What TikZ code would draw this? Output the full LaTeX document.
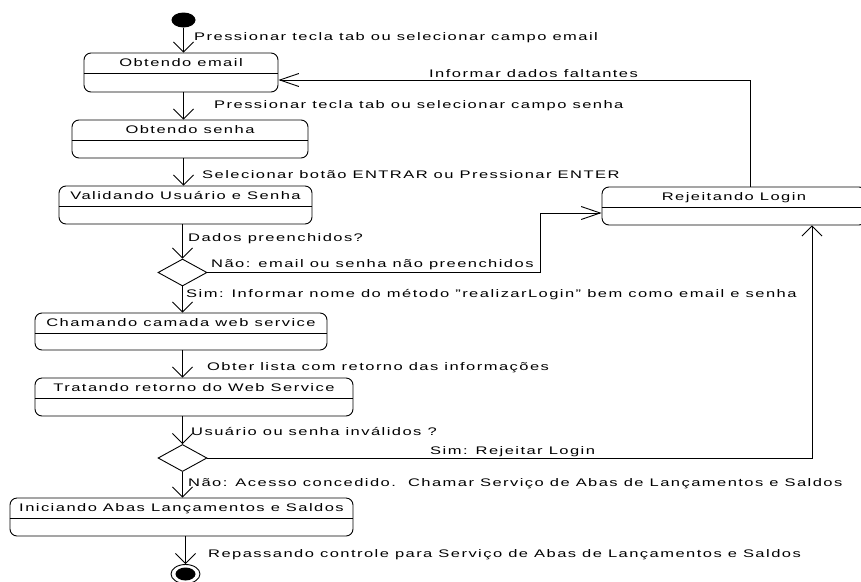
\documentclass[tikz,border=0pt]{standalone}
\usepackage{fontspec}
\setmainfont{Liberation Sans}[FakeStretch=1.5,LetterSpace=13.3]
\usetikzlibrary{arrows.meta,shapes.geometric}

% state box: name, x1, y1, x2, y2, title
\newcommand\umlstate[6]{%
  \node[state, minimum width={#4-#2}, minimum height={#5-#3}] (#1) at ({(#2+#4)/2},{(#3+#5)/2}) {};
  \draw[flow] ([yshift=-21pt]#1.north west) -- ([yshift=-21pt]#1.north east);
  \node[txt, anchor=base] (#1-title) at ({(#2+#4)/2},{#3+13}) {#6};
}

\begin{document}
\begin{tikzpicture}[x=1pt,y=-1pt,
  txt/.style={inner sep=0pt, font=\fontsize{11}{13}\selectfont},
  lbl/.style={txt, anchor=base west},
  flow/.style={line width=0.9pt},
  state/.style={draw, flow, rounded corners=7pt, inner sep=0pt},
  varr/.style={flow, -{Straight Barb[length=10pt,width=20pt]}},
  harr/.style={flow, -{Straight Barb[length=19pt,width=13pt]}},
  decision/.style={draw, flow, diamond, aspect=1.8, minimum width=49pt, minimum height=27pt, inner sep=0pt}]

\useasboundingbox (0,0) rectangle (861,581);
\clip (0,0) rectangle (861,581);
\fill[white] (0,0) rectangle (861,581);

% start and end
\node[fill, ellipse, minimum width=24pt, minimum height=15pt, inner sep=0pt] (init) at (183.5,20) {};
\node[draw, flow, ellipse, minimum width=29pt, minimum height=19pt, inner sep=0pt] (final) at (185.5,574) {};
\fill (final.center) ellipse [x radius=10pt, y radius=6.5pt];

% states
\umlstate{email}{84}{53}{278}{92}{Obtendo email}
\umlstate{senha}{72}{120}{308}{158}{Obtendo senha}
\umlstate{valida}{59}{186}{312}{224}{Validando Usuário e Senha}
\umlstate{chama}{35}{313}{327}{350}{Chamando camada web service}
\umlstate{trata}{35}{378}{353}{416}{Tratando retorno do Web Service}
\umlstate{inicia}{10}{498}{353}{536}{Iniciando Abas Lançamentos e Saldos}
\umlstate{rejeita}{602}{187}{866}{225}{Rejeitando Login}

% decisions
\node[decision] (d1) at (182.5,272.5) {};
\node[decision] (d2) at (182.5,458) {};

% bend points
\coordinate (bendA) at (540,213);
\coordinate (bendB) at (750,80);
\coordinate (bendC) at (812,458);

% main flow
\draw[varr] (init.south) -- (init |- email.north);
\draw[varr] (init |- email.south) -- (init |- senha.north);
\draw[varr] (init |- senha.south) -- (init |- valida.north);
\draw[varr] (d1 |- valida.south) -- (d1.north);
\draw[varr] (d1.south) -- (d1 |- chama.north);
\draw[varr] (d1 |- chama.south) -- (d1 |- trata.north);
\draw[varr] (d2 |- trata.south) -- (d2.north);
\draw[varr] (d2.south) -- (d2 |- inicia.north);
\draw[varr] (final |- inicia.south) -- (final.north);

% rejection paths
\draw[harr] (d1.east) -| (bendA) -- (bendA -| rejeita.west);
\draw[harr] (bendB |- rejeita.north) -- (bendB) -- (bendB -| email.east);
\draw[varr] (d2.east) -- (bendC) -- (bendC |- rejeita.south);

% transition labels
\node[lbl] (l1) at (194,40) {Pressionar tecla tab ou selecionar campo email};
\node[lbl] (l2) at (429,77) {Informar dados faltantes};
\node[lbl] (l3) at (214,108) {Pressionar tecla tab ou selecionar campo senha};
\node[lbl] (l4) at (202,178) {Selecionar botão ENTRAR ou Pressionar ENTER};
\node[lbl] (l5) at (188,241) {Dados preenchidos?};
\node[lbl] (l6) at (211,267) {Não: email ou senha não preenchidos};
\node[lbl] (l7) at (186,297) {Sim: Informar nome do método "realizarLogin" bem como email e senha};
\node[lbl] (l8) at (207,370) {Obter lista com retorno das informações};
\node[lbl] (l9) at (191,435) {Usuário ou senha inválidos ?};
\node[lbl] (l10) at (430,454) {Sim: Rejeitar Login};
\node[lbl] (l11) at (188,486) {Não: Acesso concedido.\ \ Chamar Serviço de Abas de Lançamentos e Saldos};
\node[lbl] (l12) at (208,557) {Repassando controle para Serviço de Abas de Lançamentos e Saldos};
\end{tikzpicture}
\end{document}
